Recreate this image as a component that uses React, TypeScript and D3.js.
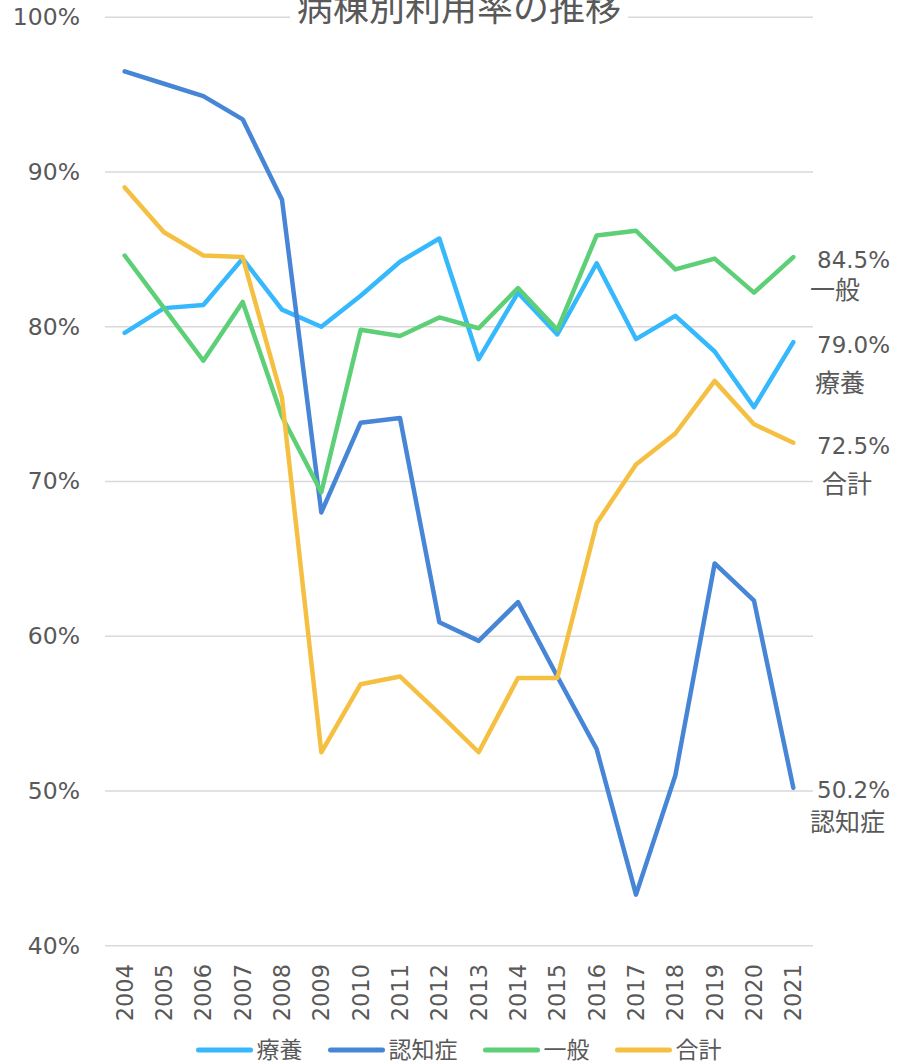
import React from "react";
import * as d3 from "d3";

const years = ["2004","2005","2006","2007","2008","2009","2010","2011","2012","2013","2014","2015","2016","2017","2018","2019","2020","2021"];
const ryoyo = [79.6,81.2,81.4,84.4,81.1,80.0,82.0,84.2,85.7,77.9,82.2,79.5,84.1,79.2,80.7,78.4,74.8,79.0];
const ninchi = [96.5,95.7,94.9,93.4,88.2,68.0,73.8,74.1,60.9,59.7,62.2,57.4,52.7,43.3,51.0,64.7,62.3,50.2];
const ippan = [84.6,81.2,77.8,81.6,74.2,69.3,79.8,79.4,80.6,79.9,82.5,79.8,85.9,86.2,83.7,84.4,82.2,84.5];
const goukei = [89.0,86.1,84.6,84.5,75.4,52.5,56.9,57.4,55.0,52.5,57.3,57.3,67.3,71.1,73.1,76.5,73.7,72.5];
const yTicks = [40,50,60,70,80,90,100];
const title = "病棟別利用率の推移";

const series = [
  { name: "療養", values: ryoyo, color: "#36B8FC" },
  { name: "認知症", values: ninchi, color: "#4786D6" },
  { name: "一般", values: ippan, color: "#5DCF77" },
  { name: "合計", values: goukei, color: "#F5C042" },
];

const endLabels = [
  { name: "一般", value: "84.5%", vx: 817, vy: 268, nx: 810, ny: 299 },
  { name: "療養", value: "79.0%", vx: 817, vy: 353, nx: 815, ny: 392 },
  { name: "合計", value: "72.5%", vx: 817, vy: 454, nx: 822, ny: 493 },
  { name: "認知症", value: "50.2%", vx: 817, vy: 798, nx: 810, ny: 831 },
];

const FONT = "'DejaVu Sans', 'Noto Sans CJK JP', sans-serif";
const GRAY = "#595959";

export default function App() {
  const W = 897, H = 1064;
  const x = d3.scaleBand<string>().domain(years).range([105, 813]);
  const cx = (d: string) => (x(d) as number) + x.bandwidth() / 2;
  const y = d3.scaleLinear().domain([40, 100]).range([945.7, 17.2]);
  const line = d3.line<number>().x((_, i) => cx(years[i])).y((v) => y(v));

  // legend layout
  const legFont = 23;
  const segW = 56, segGap = 4, itemGap = 26;
  const itemWidths = series.map((s) => segW + segGap + s.name.length * legFont);
  const total = itemWidths.reduce((a, b) => a + b, 0) + itemGap * (series.length - 1);
  let lx = 459 - total / 2;
  const legendItems = series.map((s, i) => {
    const start = lx;
    lx += itemWidths[i] + itemGap;
    return { ...s, start };
  });

  return (
    <svg width={W} height={H} style={{ position: "absolute", left: 0, top: 0, background: "#fff" }} fontFamily={FONT}>
      <rect x={0} y={0} width={W} height={H} fill="#fff" />
      {yTicks.map((t) => (
        <g key={t}>
          <line x1={105} x2={813} y1={y(t)} y2={y(t)} stroke="#D9D9D9" strokeWidth={1.5} />
          <text x={80} y={y(t) + 8} textAnchor="end" fontSize={23.5} fill={GRAY}>{t}%</text>
        </g>
      ))}
      <rect x={290} y={0} width={338} height={30} fill="#fff" />
      <text x={459} y={21} textAnchor="middle" fontSize={36} fill={GRAY} fontFamily="'Noto Sans CJK JP', sans-serif">{title}</text>
      {years.map((yr) => (
        <text key={yr} transform={`translate(${cx(yr) + 8},964) rotate(-90)`} textAnchor="end" fontSize={22.5} fill={GRAY}>{yr}</text>
      ))}
      {series.map((s) => (
        <path key={s.name} d={line(s.values) || ""} fill="none" stroke={s.color} strokeWidth={4.5} strokeLinejoin="round" strokeLinecap="round" />
      ))}
      {endLabels.map((l) => (
        <g key={l.name} fill={GRAY}>
          <text x={l.vx} y={l.vy} fontSize={23}>{l.value}</text>
          <text x={l.nx} y={l.ny} fontSize={25} fontFamily="'Noto Sans CJK JP', sans-serif">{l.name}</text>
        </g>
      ))}
      {legendItems.map((s) => (
        <g key={s.name}>
          <line x1={s.start + 2} x2={s.start + segW - 2} y1={1050} y2={1050} stroke={s.color} strokeWidth={5} strokeLinecap="round" />
          <text x={s.start + segW + segGap} y={1058} fontSize={legFont} fill={GRAY} fontFamily="'Noto Sans CJK JP', sans-serif">{s.name}</text>
        </g>
      ))}
    </svg>
  );
}
